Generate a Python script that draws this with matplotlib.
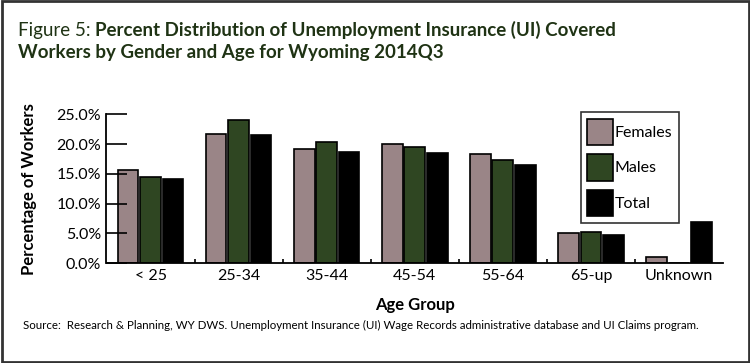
import numpy as np
import matplotlib
matplotlib.use('Agg')
import matplotlib.pyplot as plt
from matplotlib.patches import Rectangle
from matplotlib.ticker import FuncFormatter, FixedLocator

# chart data
age_groups = ['< 25', '25-34', '35-44', '45-54', '55-64', '65-up', 'Unknown']
females = [15.7, 21.7, 19.2, 20.1, 18.3, 5.0, 1.1]
males = [14.4, 24.1, 20.3, 19.5, 17.3, 5.2, 0.05]
total = [14.1, 21.6, 18.7, 18.5, 16.5, 4.8, 6.9]
series_names = ['Females', 'Males', 'Total']
series_colors = ['#9a8587', '#2f4622', '#000000']

plt.rcParams['font.family'] = ['Lato', 'DejaVu Sans']

fig = plt.figure(figsize=(7.5, 3.63), dpi=100)
ax = fig.add_axes([0.142, 0.275, 0.822, 0.41])

x = np.arange(len(age_groups))
width = 0.235
offsets = [-0.255, 0, 0.255]
for vals, name, col, off in zip([females, males, total], series_names, series_colors, offsets):
    ax.bar(x + off, vals, width, color=col, edgecolor='black', linewidth=1.2, label=name)

ax.set_xlim(-0.5, len(age_groups) - 0.5)
ax.set_ylim(0, 25)
ax.set_yticks(np.arange(0, 25.1, 5))
ax.yaxis.set_major_formatter(FuncFormatter(lambda v, p: f'{v:.1f}%'))
ax.tick_params(axis='y', direction='in', length=15, width=1.2, labelsize=11.5, pad=4)
ax.set_xticks(x)
ax.set_xticklabels(age_groups)
ax.tick_params(axis='x', which='major', length=0, labelsize=11.5, pad=4)
ax.xaxis.set_minor_locator(FixedLocator(np.arange(0.5, len(age_groups) - 1, 1)))
ax.tick_params(axis='x', which='minor', direction='in', length=3, width=1.2)

for s in ['top', 'right']:
    ax.spines[s].set_visible(False)
for s in ['left', 'bottom']:
    ax.spines[s].set_linewidth(1.3)

ax.set_ylabel('Percentage of Workers', fontsize=12, fontweight='bold', labelpad=14)
ax.set_xlabel('Age Group', fontsize=12, fontweight='bold', labelpad=10)

leg = ax.legend(loc='upper left', bbox_to_anchor=(0.769, 1.015), fontsize=11.5,
                frameon=True, fancybox=False, edgecolor='black',
                handlelength=1.6, handleheight=2.15, labelspacing=0.6,
                handletextpad=0.15, borderpad=0.4, borderaxespad=0)
leg.get_frame().set_linewidth(1.2)

title_col = '#1f3314'
tsize = 13.5
t1 = fig.text(0.024, 0.901, 'Figure 5: ', fontsize=tsize, color=title_col, va='baseline')
fig.canvas.draw()
bb = t1.get_window_extent()
x2 = bb.x1 / fig.bbox.width
fig.text(x2, 0.901, 'Percent Distribution of Unemployment Insurance (UI) Covered',
         fontsize=tsize, fontweight='bold', color=title_col, va='baseline')
fig.text(0.024, 0.84, 'Workers by Gender and Age for Wyoming 2014Q3',
         fontsize=tsize, fontweight='bold', color=title_col, va='baseline')

fig.text(0.031, 0.103, 'Source:  Research & Planning, WY DWS. Unemployment Insurance (UI) Wage Records '
         'administrative database and UI Claims program.', fontsize=8.3, va='center')

fig.patches.append(Rectangle((0.002, 0.003), 0.996, 0.994, transform=fig.transFigure,
                             fill=False, edgecolor='#333333', linewidth=2))

fig.savefig('out.png', dpi=100)
